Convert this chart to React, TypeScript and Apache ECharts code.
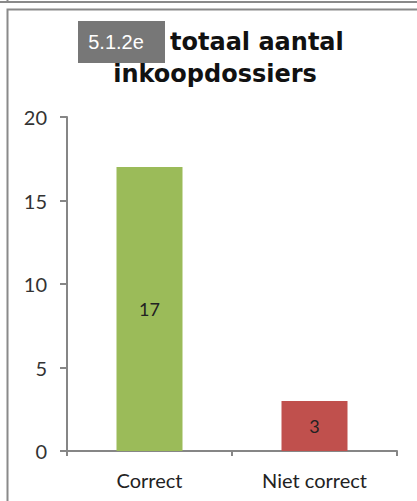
import React, { useEffect, useRef } from "react";
import * as echarts from "echarts";

const categories = ["Correct", "Niet correct"];
const values = [17, 3];
const barColors = ["#9BBB59", "#C0504D"];
const yTicks = [0, 5, 10, 15, 20];
const titleLine1 = "totaal aantal";
const titleLine2 = "inkoopdossiers";
const badge = "5.1.2e";

export default function App() {
  const ref = useRef<HTMLDivElement>(null);
  useEffect(() => {
    const chart = echarts.init(ref.current!, null, { renderer: "svg" });
    chart.setOption({
      animation: false,
      backgroundColor: "#ffffff",
      grid: { left: 67, right: 20, top: 117, bottom: 50 },
      xAxis: {
        type: "category",
        data: categories,
        axisLine: { lineStyle: { color: "#868686", width: 2 } },
        axisTick: { show: true, length: 5, lineStyle: { color: "#868686", width: 2 } },
        axisLabel: { color: "#222", fontFamily: "Lato", fontSize: 20, margin: 19 },
      },
      yAxis: {
        type: "value",
        min: yTicks[0],
        max: yTicks[yTicks.length - 1],
        interval: 5,
        splitLine: { show: false },
        axisLine: { show: true, lineStyle: { color: "#868686", width: 2 } },
        axisTick: { show: true, length: 7, lineStyle: { color: "#868686", width: 2 } },
        axisLabel: { color: "#333", fontFamily: "Lato", fontSize: 20, margin: 20 },
      },
      series: [
        {
          type: "bar",
          barWidth: 66,
          data: values.map((v, i) => ({ value: v, itemStyle: { color: barColors[i] } })),
          label: {
            show: true,
            position: "inside",
            color: "#222",
            fontFamily: "Lato",
            fontSize: 18,
          },
        },
      ],
      graphic: [
        { type: "line", shape: { x1: 0, y1: 2, x2: 417, y2: 2 }, style: { stroke: "#8a8a8a", lineWidth: 2 } },
        { type: "line", shape: { x1: 7.5, y1: 0, x2: 7.5, y2: 2 }, style: { stroke: "#8a8a8a", lineWidth: 2 } },
        { type: "rect", shape: { x: 7.5, y: 9.5, width: 420, height: 500 }, style: { fill: "none", stroke: "#8a8a8a", lineWidth: 2 } },
        {
          type: "text",
          left: 170,
          top: 30,
          style: { text: titleLine1, font: "bold 24px 'DejaVu Sans'", fill: "#111" },
        },
        {
          type: "text",
          x: 215,
          top: 62,
          style: { text: titleLine2, font: "bold 24px 'DejaVu Sans'", fill: "#111", textAlign: "center" },
        },
        { type: "rect", shape: { x: 78, y: 21, width: 87, height: 42 }, style: { fill: "#777777" } },
        {
          type: "text",
          x: 116,
          y: 42,
          style: { text: badge, font: "20px 'Liberation Sans'", fill: "#ffffff", textAlign: "center", textVerticalAlign: "middle" },
        },
      ],
    });
    return () => chart.dispose();
  }, []);
  return <div ref={ref} style={{ width: 417, height: 501, position: "absolute", left: 0, top: 0 }} />;
}
